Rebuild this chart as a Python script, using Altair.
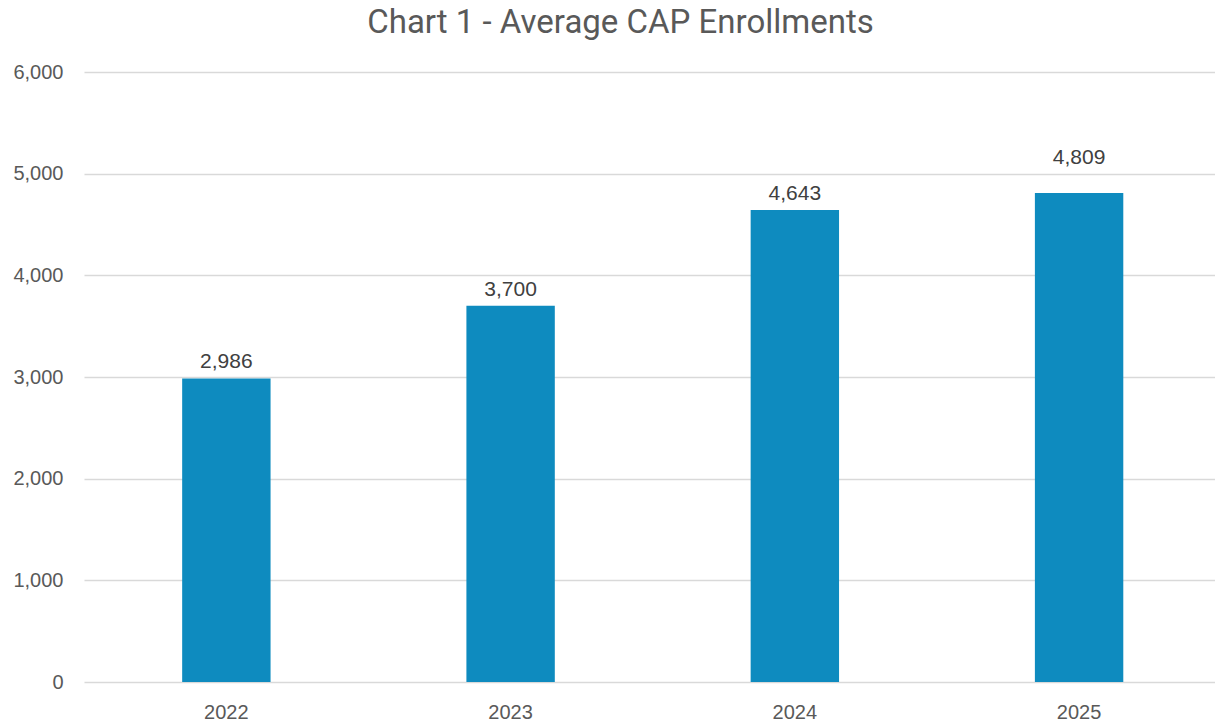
import altair as alt
import pandas as pd

years = ["2022", "2023", "2024", "2025"]
enrollments = [2986, 3700, 4643, 4809]
y_ticks = [0, 1000, 2000, 3000, 4000, 5000, 6000]

df = pd.DataFrame({"year": years, "value": enrollments})

x_enc = alt.X(
    "year:N",
    sort=years,
    scale=alt.Scale(paddingInner=0.689, paddingOuter=0.334, align=0.517),
    axis=alt.Axis(
        title=None, domain=False, ticks=False, grid=False, labelAngle=0,
        labelFont="Liberation Sans", labelFontSize=20, labelColor="#595959",
        labelPadding=20,
    ),
)
y_enc = alt.Y(
    "value:Q",
    scale=alt.Scale(domain=[0, 6000], nice=False),
    axis=alt.Axis(
        title=None, domain=False, ticks=False, values=y_ticks, format=",.0f",
        labelFont="Liberation Sans", labelFontSize=20, labelColor="#595959",
        labelPadding=21, gridColor="#d9d9d9", gridWidth=1.5,
    ),
)

base = alt.Chart(df).encode(x=x_enc, y=y_enc)

bars = base.mark_bar(color="#0E8BBF")
text_style = dict(baseline="alphabetic", font="Liberation Sans", fontSize=21, color="#404040")
labels = base.mark_text(dy=-10, **text_style).encode(
    text=alt.Text("value:Q", format=",.0f")
).transform_filter(alt.datum.year != "2025")
labels_last = base.mark_text(dy=-29, **text_style).encode(
    text=alt.Text("value:Q", format=",.0f")
).transform_filter(alt.datum.year == "2025")

chart = (
    (bars + labels + labels_last)
    .properties(
        width=1131,
        height=610,
        title=alt.TitleParams(
            "Chart 1 - Average CAP Enrollments",
            font="Roboto", fontSize=33, fontWeight="normal", color="#595959",
            anchor="middle", dx=-29, offset=22,
        ),
        view=alt.ViewBackground(stroke="transparent", strokeWidth=0),
        autosize=alt.AutoSizeParams(type="none"),
        padding={"left": 84, "top": 72, "right": 0, "bottom": 42},
    )
    .configure_view(stroke="transparent", strokeWidth=0)
    .configure(background="white")
)

chart.save("out.html", embed_options={"renderer": "svg", "actions": False})
